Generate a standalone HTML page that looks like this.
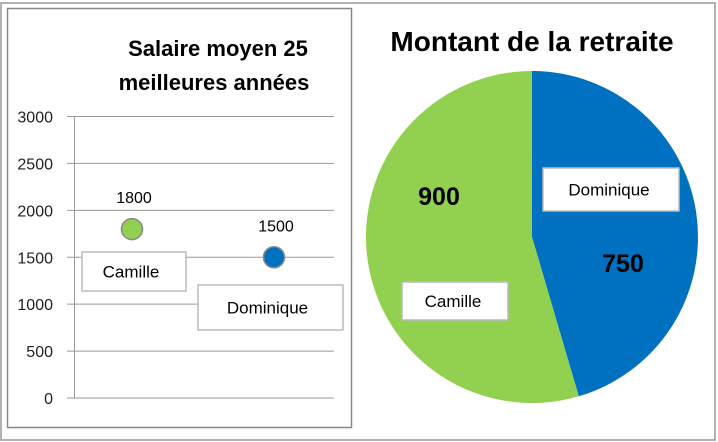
<!DOCTYPE html>
<html><head><meta charset="utf-8"><style>
body{margin:0;background:#fff;font-family:"Liberation Sans",sans-serif}
svg{display:block}
</style></head><body>
<svg width="718" height="442" viewBox="0 0 718 442">
<rect x="1" y="3" width="714" height="437" fill="#fff" stroke="#999" stroke-width="1.5"/>
<rect x="7.5" y="8.5" width="344" height="419" fill="#fff" stroke="#888" stroke-width="1.5"/>
<g id="salary">
<text x="218" y="56" font-size="22" font-weight="bold" text-anchor="middle">Salaire moyen 25</text>
<text x="214" y="90" font-size="22" font-weight="bold" text-anchor="middle">meilleures années</text>
</g>
<g id="pie">
<text x="532" y="51" font-size="28" font-weight="bold" text-anchor="middle">Montant de la retraite</text>
</g>
</svg>
<script>
const salaryNames=["Camille","Dominique"];
const salaryValues=[1800,1500];
const yTicks=[0,500,1000,1500,2000,2500,3000];
const pieNames=["Dominique","Camille"];
const pieValues=[750,900];
const NS="http://www.w3.org/2000/svg";
function mk(t,a,p,txt){const e=document.createElementNS(NS,t);for(const k in a)e.setAttribute(k,a[k]);if(txt!==undefined)e.textContent=txt;p.appendChild(e);return e;}
const sg=document.getElementById('salary');
const y=v=>398-v/3000*281.5;
const xPos=i=>132+i*142;
yTicks.forEach(t=>{
 const l=mk('line',{x1:67,x2:334,y1:y(t),y2:y(t),stroke:'#999','stroke-width':1},sg);
 
 
 const tx=mk('text',{x:53,y:y(t)+6,'font-size':16,'text-anchor':'end',fill:'#222'},sg,String(t));
 
 
});
const ax=mk('line',{x1:74.5,x2:74.5,y1:y(3000),y2:y(0),stroke:'#999','stroke-width':1},sg);


const pcol=['#92d050','#0070c0'];
const boxes=[[82,252,104,39],[198,285,145,45]];
salaryValues.forEach((v,i)=>{
 const c=mk('circle',{cx:xPos(i)+(i?0:0),cy:y(v),r:10.5,fill:pcol[i],stroke:'#888','stroke-width':1.5},sg);
 
 
 const t=mk('text',{x:xPos(i)+2,y:y(v)-26-(i?-0:0),'font-size':16,'text-anchor':'middle'},sg,String(v));
 
 
 const b=boxes[i];
 const r=mk('rect',{x:b[0],y:b[1],width:b[2],height:b[3],fill:'#fff',stroke:'#bbb','stroke-width':1.5},sg);
 
 
 const n=mk('text',{x:b[0]+b[2]/2-3,y:b[1]+b[3]/2+6,'font-size':17,'text-anchor':'middle'},sg,salaryNames[i]);
 
 
});
const pg=document.getElementById('pie');
const cx=532,cy=237,R=166;
const total=pieValues.reduce((a,b)=>a+b,0);
const slcol=['#0070c0','#92d050'];
let a0=0;
const pt=a=>[cx+R*Math.sin(a),cy-R*Math.cos(a)];
const valPos=[[623,272],[439,205]];
const nameBox=[[543,168,136,43],[402,282,106,38]];
pieValues.forEach((v,i)=>{
 const a1=a0+v/total*2*Math.PI;
 const p0=pt(a0),p1=pt(a1);
 const large=(a1-a0)>Math.PI?1:0;
 const s=mk('path',{d:`M${cx},${cy}L${p0[0]},${p0[1]}A${R},${R} 0 ${large} 1 ${p1[0]},${p1[1]}Z`,fill:slcol[i]},pg);
 
 
 a0=a1;
});
pieValues.forEach((v,i)=>{
 const t=mk('text',{x:valPos[i][0],y:valPos[i][1],'font-size':25,'font-weight':'bold','text-anchor':'middle'},pg,String(v));
 
 
 const b=nameBox[i];
 const r=mk('rect',{x:b[0],y:b[1],width:b[2],height:b[3],fill:'#fff',stroke:'#bbb','stroke-width':1.5},pg);
 
 
 const n=mk('text',{x:b[0]+b[2]/2-2,y:b[1]+b[3]/2+6,'font-size':17,'text-anchor':'middle'},pg,pieNames[i]);
 
 
});
</script>
</body></html>
